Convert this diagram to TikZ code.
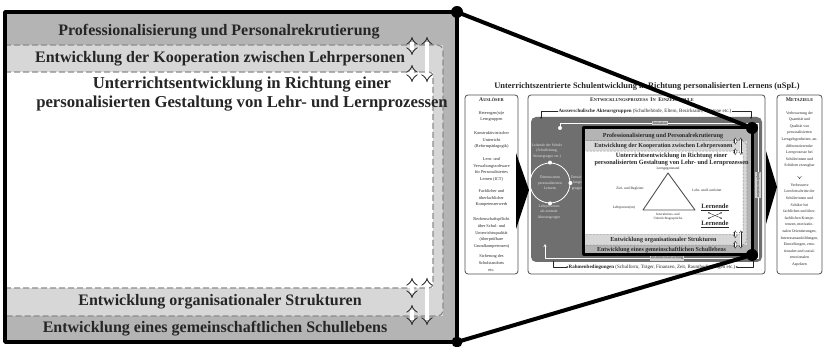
\documentclass[tikz,border=0pt]{standalone}
\usepackage{fontspec}
\setmainfont{Liberation Serif}
\usetikzlibrary{arrows.meta}

\definecolor{ink}{HTML}{262626}
\definecolor{bandmid}{HTML}{B4B4B4}
\definecolor{bandlight}{HTML}{D7D7D7}
\definecolor{dashgray}{HTML}{8C8C8C}
\definecolor{procgray}{HTML}{6F6F6F}
\definecolor{phasegray}{HTML}{CFCFCF}
\definecolor{framegray}{HTML}{505050}
\definecolor{softwhite}{HTML}{E6E6E6}

% small-caps heading: first letter large, rest smaller capitals
\newcommand\capshead[2]{{\fontsize{5.6}{6}\selectfont #1}{\fontsize{4.4}{6}\selectfont #2}}

% the layered school-development panel, drawn in a 452 x 330 frame
\newcommand\schoolpanel{%
  \fill[bandmid] (0,0) rectangle (452,330);
  \fill[bandlight] (0,33) rectangle (438,304);
  \draw[bandline, rounded corners=6] (0,33) -- (438,33) -- (438,304) -- (0,304);
  \fill[white] (0,60) rectangle (428,276);
  \draw[bandline, rounded corners=4] (0,60) -- (428,60) -- (428,276) -- (0,276);
  \node[bandtext] (pband1) at (214,20) {Professionalisierung und Personalrekrutierung};
  \node[bandtext] (pband2) at (215,47) {Entwicklung der Kooperation zwischen Lehrpersonen};
  \node[coretext] (pcore) at (237,82) {Unterrichtsentwicklung in Richtung einer\\personalisierten Gestaltung von Lehr- und Lernprozessen};
  \node[bandtext] (pband4) at (215,290) {Entwicklung organisationaler Strukturen};
  \node[bandtext] (pband5) at (210,317) {Entwicklung eines gemeinschaftlichen Schullebens};
  \coordinate (da1) at (407,25);  \coordinate (db1) at (407,43);
  \coordinate (da2) at (407,53);  \coordinate (db2) at (407,70);
  \coordinate (da3) at (422,25);  \coordinate (db3) at (422,70);
  \coordinate (da4) at (407,266); \coordinate (db4) at (407,286);
  \coordinate (da5) at (407,293); \coordinate (db5) at (407,313);
  \coordinate (da6) at (422,266); \coordinate (db6) at (422,313);
  \draw[dblarrow] (da1) -- (db1);
  \draw[dblarrow] (da2) -- (db2);
  \draw[dblarrow] (da3) -- (db3);
  \draw[dblarrow] (da4) -- (db4);
  \draw[dblarrow] (da5) -- (db5);
  \draw[dblarrow] (da6) -- (db6);
}

\tikzset{
  smalltext/.style={text=ink, align=center, inner sep=0pt, font=\fontsize{4.3}{6.6}\selectfont},
  boxframe/.style={draw=framegray, line width=0.8pt, rounded corners=3pt, fill=white},
  cyclearrow/.style={draw=white, line width=0.8pt},
  phaselabel/.style={fill=phasegray, text=ink, inner sep=0.8pt, font=\fontsize{4}{4.5}\selectfont},
  graytext/.style={text=softwhite, align=center, inner sep=0pt, font=\fontsize{3.8}{5.6}\selectfont},
  zoomline/.style={black, line width=4pt, line cap=round},
}

\begin{document}
\begin{tikzpicture}[x=1pt, y=-1pt, line join=round]
\useasboundingbox (0,0) rectangle (824,347);
\fill[white] (0,0) rectangle (824,347);

% ---------------- overview diagram ----------------
\node[text=ink, inner sep=0pt, font=\bfseries\fontsize{8.4}{9}\selectfont] (title) at (647,87)
  {Unterrichtszentrierte Schulentwicklung in Richtung personalisierten Lernens (uSpL)};

% triggers column
\draw[boxframe] (465,95) rectangle (518,274);
\node[text=ink, inner sep=0pt, font=\bfseries] (ausl) at (491.5,100) {\capshead{A}{USLÖSER}};
\node[smalltext] (t1) at (491.5,116.5) {Heterogen(st)e\\Lerngruppen};
\node[smalltext] (t2) at (491.5,140) {Konstruktivistischer\\Unterricht\\(Reformpädagogik)};
\node[smalltext] (t3) at (491.5,169.5) {Lern- und\\Verwaltungssoftware\\für Personalisiertes\\Lernen (ICT)};
\node[smalltext] (t4) at (491.5,198) {Fachlicher und\\überfachlicher\\Kompetenzerwerb};
\node[smalltext] (t5) at (491.5,233) {Rechenschaftspflicht\\über Schul- und\\Unterrichtsqualität\\(überprüfbare\\Grundkompetenzen)};
\node[smalltext] (t6) at (491.5,263) {Sicherung des\\Schulstandorts\\etc.};

% development process column
\draw[boxframe] (528,95) rectangle (765,274);
\node[text=ink, inner sep=0pt, font=\bfseries] (proc) at (642,100)
  {\capshead{E}{NTWICKLUNGSPROZESS} \capshead{I}{N} \capshead{E}{INZELSCHULE}};
\node[text=ink, inner sep=0pt, font=\fontsize{5}{6}\selectfont] (akteur) at (645,111.5)
  {\textbf{Ausserschulische Akteursgruppen} (Schulbehörde, Eltern, Bezirksamt, Kantone etc.)};
\fill[procgray, rounded corners=5] (531,117) rectangle (762,262);
\node[text=ink, inner sep=0pt, font=\fontsize{5}{6}\selectfont] (rahmen) at (652,267)
  {\textbf{Rahmenbedingungen} (Schulform, Träger, Finanzen, Zeit, Raumbedingungen etc.)};
\coordinate (akL) at (541,119);
\coordinate (akR) at (751,119);
\coordinate (raL) at (553,261);
\coordinate (raR) at (753,261);
\draw[ink, line width=0.4pt, -{Stealth[length=2pt,width=2pt]}] (akteur.west) -| (akL);
\draw[ink, line width=0.4pt, -{Stealth[length=2pt,width=2pt]}] (akteur.east) -| (akR);
\draw[ink, line width=0.4pt, -{Stealth[length=2pt,width=2pt]}] (raL) |- (rahmen.west);
\draw[ink, line width=0.4pt, -{Stealth[length=2pt,width=2pt]}] (raR) |- (rahmen.east);

% phase cycle
\coordinate (cy0) at (560,128);
\coordinate (cy1) at (560,123);
\coordinate (cy2) at (758,123);
\coordinate (cy3) at (758,258);
\coordinate (cy4) at (545,258);
\coordinate (cy5) at (545,244);
\draw[cyclearrow, -{Stealth[length=3pt,width=3pt]}] (cy0) -- (cy1) -- (cy2) -- (cy3) -- (cy4) -- (cy5);
\fill[white] (cy0) circle (2);
\node[phaselabel] (initiation) at (660,123) {Initiation};
\node[phaselabel, rotate=-90] (implement) at (758,185) {Implementation};
\node[phaselabel] (institution) at (667,258) {Institutionalisierung};

% dimensions of personalised learning
\node[circle, draw=white, line width=0.8pt, minimum size=40pt, inner sep=0pt] (dimcircle) at (550,183) {};
\node[graytext] (dimtext) at (550,183) {Dimensionen\\personalisierten\\Lernens};
\fill[white] (dimcircle.north) circle (2);
\fill[white] (dimcircle.east) circle (2);
\fill[white] (dimcircle.south) circle (2);
\node[graytext] (leitung) at (547,151) {Leitende der Schule\\(Schulleitung,\\Steuergruppe etc.)};
\node[graytext] (entwgr) at (578,183) {Entwick-\\lungs-\\gruppen};
\node[graytext] (lehrakt) at (549,212) {Lehrpersonen\\als zentrale\\Akteursgruppe};

% reduced copy of the layered panel
\begin{scope}[shift={(583,128)}, xscale=0.374, yscale=0.385, transform shape,
  bandline/.style={draw=dashgray, line width=0.45pt, dash pattern=on 2.2pt off 1.2pt},
  dblarrow/.style={draw=ink, double=white, double distance=1.2pt, line width=0.3pt, {Implies}-{Implies}},
  bandtext/.style={text=ink, inner sep=0pt, font=\bfseries\fontsize{16}{18}\selectfont},
  coretext/.style={text=ink, inner sep=0pt, align=center, font=\bfseries\fontsize{16.7}{19}\selectfont}]
  \schoolpanel
\end{scope}

% didactic triangle inside the reduced panel
\coordinate (triA) at (668,173);
\coordinate (triB) at (643,210);
\coordinate (triC) at (695,210);
\draw[framegray, line width=0.9pt] (triA) -- (triB) -- (triC) -- cycle;
\node[text=ink, inner sep=0pt, font=\fontsize{3.6}{4}\selectfont] (lgeg) at (668,168.5) {Lerngegenstand};
\node[text=ink, inner sep=0pt, font=\fontsize{3.6}{4}\selectfont] (zielb) at (630,189) {Ziel- und Begleiter};
\node[text=ink, inner sep=0pt, font=\fontsize{3.6}{4}\selectfont] (lehrp) at (624,208) {Lehrperson(en)};
\node[text=ink, inner sep=0pt, font=\fontsize{3.6}{4}\selectfont] (lehrl) at (707,190) {Lehr- und Lernleiter};
\node[text=ink, inner sep=0pt, align=center, font=\fontsize{3.4}{4.6}\selectfont] (interak) at (668,216.5) {Interaktions- und\\Unterrichtsgespräche};
\node[text=ink, inner sep=0pt, font=\bfseries\fontsize{6.6}{7}\selectfont] (lern1) at (715,207) {\underline{Lernende}};
\node[text=ink, inner sep=0pt, font=\bfseries\fontsize{6.6}{7}\selectfont] (lern2) at (715,224) {\underline{Lernende}};
\coordinate (xa1) at (708,212.5); \coordinate (xb1) at (722,218.5);
\coordinate (xa2) at (708,218.5); \coordinate (xb2) at (722,212.5);
\draw[ink, line width=0.4pt, {Stealth[length=1.6pt,width=1.6pt]}-{Stealth[length=1.6pt,width=1.6pt]}] (xa1) -- (xb1);
\draw[ink, line width=0.4pt, {Stealth[length=1.6pt,width=1.6pt]}-{Stealth[length=1.6pt,width=1.6pt]}] (xa2) -- (xb2);

% frame of the reduced panel
\coordinate (smTL) at (583,128);
\coordinate (smTR) at (752,128);
\coordinate (smBR) at (752,255);
\coordinate (smBL) at (583,255);
\draw[black, line width=3pt] (smTL) -- (smTR) -- (smBR) -- (smBL) -- cycle;

% meta goals column
\draw[boxframe] (777,95) rectangle (822,274);
\node[text=ink, inner sep=0pt, font=\bfseries] (meta) at (799.5,100) {\capshead{M}{ETAZIELE}};
\node[smalltext, font=\fontsize{3.9}{6.6}\selectfont] (m1) at (799.5,139.5)
  {Verbesserung der\\Quantität und\\Qualität von\\personalisierten\\Lerngelegenheiten, an-\\differenzierender\\Lernprozesse bei\\Schülerinnen und\\Schülern erzeugbar};
\coordinate (mA) at (799.5,170);
\coordinate (mB) at (799.5,179);
\draw[ink, double=white, double distance=1.2pt, line width=0.3pt, -{Implies}] (mA) -- (mB);
\node[smalltext, font=\fontsize{3.9}{6.6}\selectfont] (m2) at (799.5,225)
  {Verbesserte\\Lernfortschritte der\\Schülerinnen und\\Schüler bei\\fachlichen und über-\\fachlichen Kompe-\\tenzen, motivatio-\\nalen Orientierungen,\\Interessenausbildungen,\\Einstellungen, emo-\\tionalen und sozial-\\emotionalen\\Aspekten};

% flow arrows between the columns
\fill[black] (516,153) -- (529,190) -- (516,229) -- cycle;
\fill[black] (766,151) -- (777,187) -- (766,224) -- cycle;

% ---------------- enlarged panel ----------------
\begin{scope}[shift={(5,12)},
  bandline/.style={draw=dashgray, line width=1.2pt, dash pattern=on 6pt off 3pt},
  dblarrow/.style={draw=ink, double=white, double distance=3.2pt, line width=0.8pt, {Implies}-{Implies}},
  bandtext/.style={text=ink, inner sep=0pt, font=\bfseries\fontsize{16}{18}\selectfont},
  coretext/.style={text=ink, inner sep=0pt, align=center, font=\bfseries\fontsize{16.7}{19}\selectfont}]
  \schoolpanel
\end{scope}
\coordinate (bgTL) at (5,12);
\coordinate (bgTR) at (457,12);
\coordinate (bgBR) at (457,342);
\coordinate (bgBL) at (5,342);
\draw[black, line width=3.5pt] (bgTL) -- (bgTR) -- (bgBR) -- (bgBL) -- cycle;

% magnification lines
\draw[zoomline] (bgTR) -- (smTR);
\draw[zoomline] (bgBR) -- (smBR);
\fill[black] (bgTR) circle (6);
\fill[black] (bgBR) circle (5.5);
\fill[black] (smTR) circle (6);
\fill[black] (smBR) circle (6);
\end{tikzpicture}
\end{document}
